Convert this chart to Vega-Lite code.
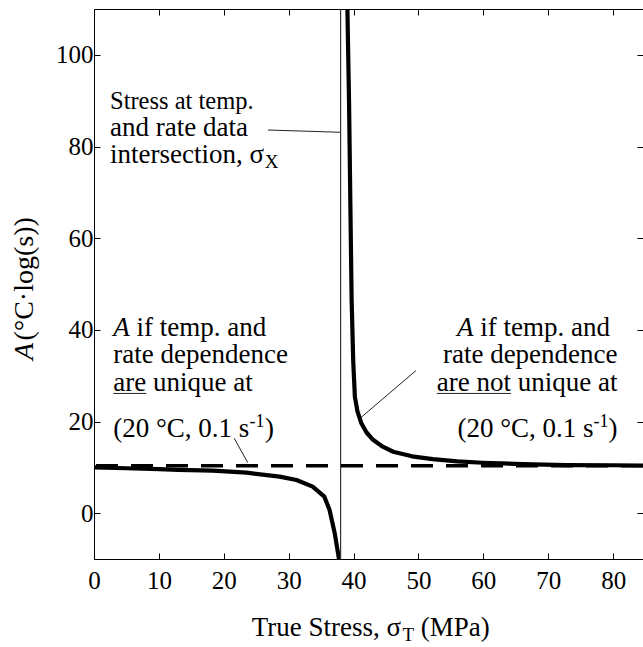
{
  "$schema": "https://vega.github.io/schema/vega-lite/v6.json",
  "width": 549,
  "height": 550,
  "autosize": {"type": "none"},
  "padding": {"left": 94, "top": 9, "right": 0, "bottom": 88},
  "config": {
    "font": "Liberation Serif, Times New Roman, serif",
    "view": {"stroke": null},
    "text": {"font": "Liberation Serif, Times New Roman, serif"},
    "axis": {"grid": false, "domainColor": "black", "tickColor": "black", "labelColor": "black", "labelFont": "Liberation Serif, Times New Roman, serif", "labelFontSize": 25, "labelFlush": false, "labelOverlap": false, "tickSize": -6, "domainWidth": 1, "tickWidth": 1}
  },
  "resolve": {"axis": {"x": "independent", "y": "independent"}},
  "layer": [
    {
      "data": {"values": [
        {"b": "L", "x": 0, "y": 10.0}, {"b": "L", "x": 5, "y": 9.8}, {"b": "L", "x": 10, "y": 9.6}, {"b": "L", "x": 13, "y": 9.45},
        {"b": "L", "x": 18.3, "y": 9.27}, {"b": "L", "x": 23.5, "y": 8.84}, {"b": "L", "x": 28.6, "y": 7.97}, {"b": "L", "x": 31.2, "y": 7.24},
        {"b": "L", "x": 33.7, "y": 5.78}, {"b": "L", "x": 35.5, "y": 3.6}, {"b": "L", "x": 36.3, "y": 0.7}, {"b": "L", "x": 37.1, "y": -4.4},
        {"b": "L", "x": 37.75, "y": -10},
        {"b": "R", "x": 39.05, "y": 110}, {"b": "R", "x": 39.3, "y": 90}, {"b": "R", "x": 39.5, "y": 68}, {"b": "R", "x": 39.7, "y": 46.5},
        {"b": "R", "x": 39.95, "y": 33}, {"b": "R", "x": 40.2, "y": 25.4}, {"b": "R", "x": 40.6, "y": 22.2}, {"b": "R", "x": 41.2, "y": 19.6},
        {"b": "R", "x": 42, "y": 17.6}, {"b": "R", "x": 43, "y": 16.0}, {"b": "R", "x": 44.5, "y": 14.5}, {"b": "R", "x": 46.1, "y": 13.4},
        {"b": "R", "x": 49, "y": 12.4}, {"b": "R", "x": 52.2, "y": 11.8}, {"b": "R", "x": 56, "y": 11.3}, {"b": "R", "x": 59.9, "y": 11.0},
        {"b": "R", "x": 66, "y": 10.7}, {"b": "R", "x": 72.8, "y": 10.5}, {"b": "R", "x": 80, "y": 10.45}, {"b": "R", "x": 84.6, "y": 10.4}
      ]},
      "mark": {"type": "line", "color": "black", "strokeWidth": 4.2, "strokeJoin": "round"},
      "encoding": {
        "x": {"field": "x", "type": "quantitative", "scale": {"domain": [0, 84.6], "nice": false, "zero": false},
              "axis": {"orient": "bottom", "values": [0, 10, 20, 30, 40, 50, 60, 70, 80], "title": null, "labelPadding": 15}},
        "y": {"field": "y", "type": "quantitative", "scale": {"domain": [-10, 110], "nice": false, "zero": false},
              "axis": {"orient": "left", "values": [0, 20, 40, 60, 80, 100], "title": null, "labelPadding": 7}},
        "detail": {"field": "b"}
      }
    },
    {
      "data": {"values": [{"x": 38.0}]},
      "mark": {"type": "rule", "color": "#333333", "strokeWidth": 1.2},
      "encoding": {
        "x": {"field": "x", "type": "quantitative", "scale": {"domain": [0, 84.6], "nice": false, "zero": false},
              "axis": {"orient": "top", "values": [0, 10, 20, 30, 40, 50, 60, 70, 80], "title": null, "labels": false}}
      }
    },
    {
      "data": {"values": [{"y": 10.36}]},
      "mark": {"type": "rule", "color": "black", "strokeWidth": 3.6, "strokeDash": [22, 13]},
      "encoding": {
        "y": {"field": "y", "type": "quantitative", "scale": {"domain": [-10, 110], "nice": false, "zero": false},
              "axis": {"orient": "right", "values": [0, 20, 40, 60, 80, 100], "title": null, "labels": false, "domain": false}}
      }
    },
    {
      "data": {"values": [
        {"x": 26.8, "y": 83.6, "x2": 38.0, "y2": 83.1},
        {"x": 21.6, "y": 16.34, "x2": 23.7, "y2": 11.0},
        {"x": 49.6, "y": 31.1, "x2": 41.0, "y2": 20.7},
        {"x": 2.97, "y": 26.12, "x2": 8.06, "y2": 26.12},
        {"x": 52.83, "y": 26.12, "x2": 64.27, "y2": 26.12}
      ]},
      "mark": {"type": "rule", "color": "#222222", "strokeWidth": 1},
      "encoding": {
        "x": {"field": "x", "type": "quantitative", "scale": {"domain": [0, 84.6], "nice": false, "zero": false}, "axis": null},
        "y": {"field": "y", "type": "quantitative", "scale": {"domain": [-10, 110], "nice": false, "zero": false}, "axis": null},
        "x2": {"field": "x2"},
        "y2": {"field": "y2"}
      }
    },
    {
      "data": {"values": [
        {"x": 2.47, "y": 88.12, "t": "Stress at temp."}
      ]},
      "mark": {"type": "text", "align": "left", "baseline": "alphabetic", "fontSize": 24.5, "color": "black"},
      "encoding": {
        "x": {"field": "x", "type": "quantitative", "scale": {"domain": [0, 84.6], "nice": false, "zero": false}, "axis": null},
        "y": {"field": "y", "type": "quantitative", "scale": {"domain": [-10, 110], "nice": false, "zero": false}, "axis": null},
        "text": {"field": "t"}
      }
    },
    {
      "data": {"values": [
        {"x": 2.47, "y": 82.23, "t": "and rate data"},
        {"x": 2.47, "y": 76.34, "t": "intersection, σ"},
        {"x": 6.55, "y": 38.66, "t": "if temp. and"},
        {"x": 2.97, "y": 32.7, "t": "rate dependence"},
        {"x": 9.1, "y": 26.72, "t": "unique at"},
        {"x": 2.97, "y": 26.72, "t": "are"},
        {"x": 2.97, "y": 16.7, "t": "(20 °C, 0.1 s"},
        {"x": 26.35, "y": 16.7, "t": ")"},
        {"x": 24.3, "y": -26.73, "t": "True Stress, σ"},
        {"x": 50.36, "y": -26.73, "t": "(MPa)"}
      ]},
      "mark": {"type": "text", "align": "left", "baseline": "alphabetic", "fontSize": 27, "color": "black"},
      "encoding": {
        "x": {"field": "x", "type": "quantitative", "scale": {"domain": [0, 84.6], "nice": false, "zero": false}, "axis": null},
        "y": {"field": "y", "type": "quantitative", "scale": {"domain": [-10, 110], "nice": false, "zero": false}, "axis": null},
        "text": {"field": "t"}
      }
    },
    {
      "data": {"values": [
        {"x": 79.5, "y": 38.66, "t": "if temp. and"},
        {"x": 80.68, "y": 32.7, "t": "rate dependence"},
        {"x": 80.68, "y": 26.72, "t": "are not unique at"},
        {"x": 76.97, "y": 16.7, "t": "(20 °C, 0.1 s"},
        {"x": 80.68, "y": 16.7, "t": ")"}
      ]},
      "mark": {"type": "text", "align": "right", "baseline": "alphabetic", "fontSize": 27, "color": "black"},
      "encoding": {
        "x": {"field": "x", "type": "quantitative", "scale": {"domain": [0, 84.6], "nice": false, "zero": false}, "axis": null},
        "y": {"field": "y", "type": "quantitative", "scale": {"domain": [-10, 110], "nice": false, "zero": false}, "axis": null},
        "text": {"field": "t"}
      }
    },
    {
      "data": {"values": [
        {"x": 2.97, "y": 38.66, "t": "A"}
      ]},
      "mark": {"type": "text", "align": "left", "baseline": "alphabetic", "fontSize": 27, "fontStyle": "italic", "color": "black"},
      "encoding": {
        "x": {"field": "x", "type": "quantitative", "scale": {"domain": [0, 84.6], "nice": false, "zero": false}, "axis": null},
        "y": {"field": "y", "type": "quantitative", "scale": {"domain": [-10, 110], "nice": false, "zero": false}, "axis": null},
        "text": {"field": "t"}
      }
    },
    {
      "data": {"values": [
        {"x": 58.48, "y": 38.66, "t": "A"}
      ]},
      "mark": {"type": "text", "align": "right", "baseline": "alphabetic", "fontSize": 27, "fontStyle": "italic", "color": "black"},
      "encoding": {
        "x": {"field": "x", "type": "quantitative", "scale": {"domain": [0, 84.6], "nice": false, "zero": false}, "axis": null},
        "y": {"field": "y", "type": "quantitative", "scale": {"domain": [-10, 110], "nice": false, "zero": false}, "axis": null},
        "text": {"field": "t"}
      }
    },
    {
      "data": {"values": [
        {"x": 23.96, "y": 16.7, "t": "-1"},
        {"x": 76.97, "y": 16.7, "t": "-1"}
      ]},
      "mark": {"type": "text", "align": "left", "baseline": "alphabetic", "fontSize": 18, "dy": -10, "color": "black"},
      "encoding": {
        "x": {"field": "x", "type": "quantitative", "scale": {"domain": [0, 84.6], "nice": false, "zero": false}, "axis": null},
        "y": {"field": "y", "type": "quantitative", "scale": {"domain": [-10, 110], "nice": false, "zero": false}, "axis": null},
        "text": {"field": "t"}
      }
    },
    {
      "data": {"values": [
        {"x": 26.3, "y": 76.34, "t": "X"},
        {"x": 47.54, "y": -26.73, "t": "T"}
      ]},
      "mark": {"type": "text", "align": "left", "baseline": "alphabetic", "fontSize": 19, "dy": 5, "color": "black"},
      "encoding": {
        "x": {"field": "x", "type": "quantitative", "scale": {"domain": [0, 84.6], "nice": false, "zero": false}, "axis": null},
        "y": {"field": "y", "type": "quantitative", "scale": {"domain": [-10, 110], "nice": false, "zero": false}, "axis": null},
        "text": {"field": "t"}
      }
    },
    {
      "data": {"values": [
        {"x": -9.4, "y": 33.4, "t": "A"}
      ]},
      "mark": {"type": "text", "align": "left", "baseline": "alphabetic", "angle": 270, "fontSize": 28, "fontStyle": "italic", "color": "black"},
      "encoding": {
        "x": {"field": "x", "type": "quantitative", "scale": {"domain": [0, 84.6], "nice": false, "zero": false}, "axis": null},
        "y": {"field": "y", "type": "quantitative", "scale": {"domain": [-10, 110], "nice": false, "zero": false}, "axis": null},
        "text": {"field": "t"}
      }
    },
    {
      "data": {"values": [
        {"x": -9.4, "y": 37.7, "t": "(°C·log(s))"}
      ]},
      "mark": {"type": "text", "align": "left", "baseline": "alphabetic", "angle": 270, "fontSize": 28, "color": "black"},
      "encoding": {
        "x": {"field": "x", "type": "quantitative", "scale": {"domain": [0, 84.6], "nice": false, "zero": false}, "axis": null},
        "y": {"field": "y", "type": "quantitative", "scale": {"domain": [-10, 110], "nice": false, "zero": false}, "axis": null},
        "text": {"field": "t"}
      }
    }
  ]
}
